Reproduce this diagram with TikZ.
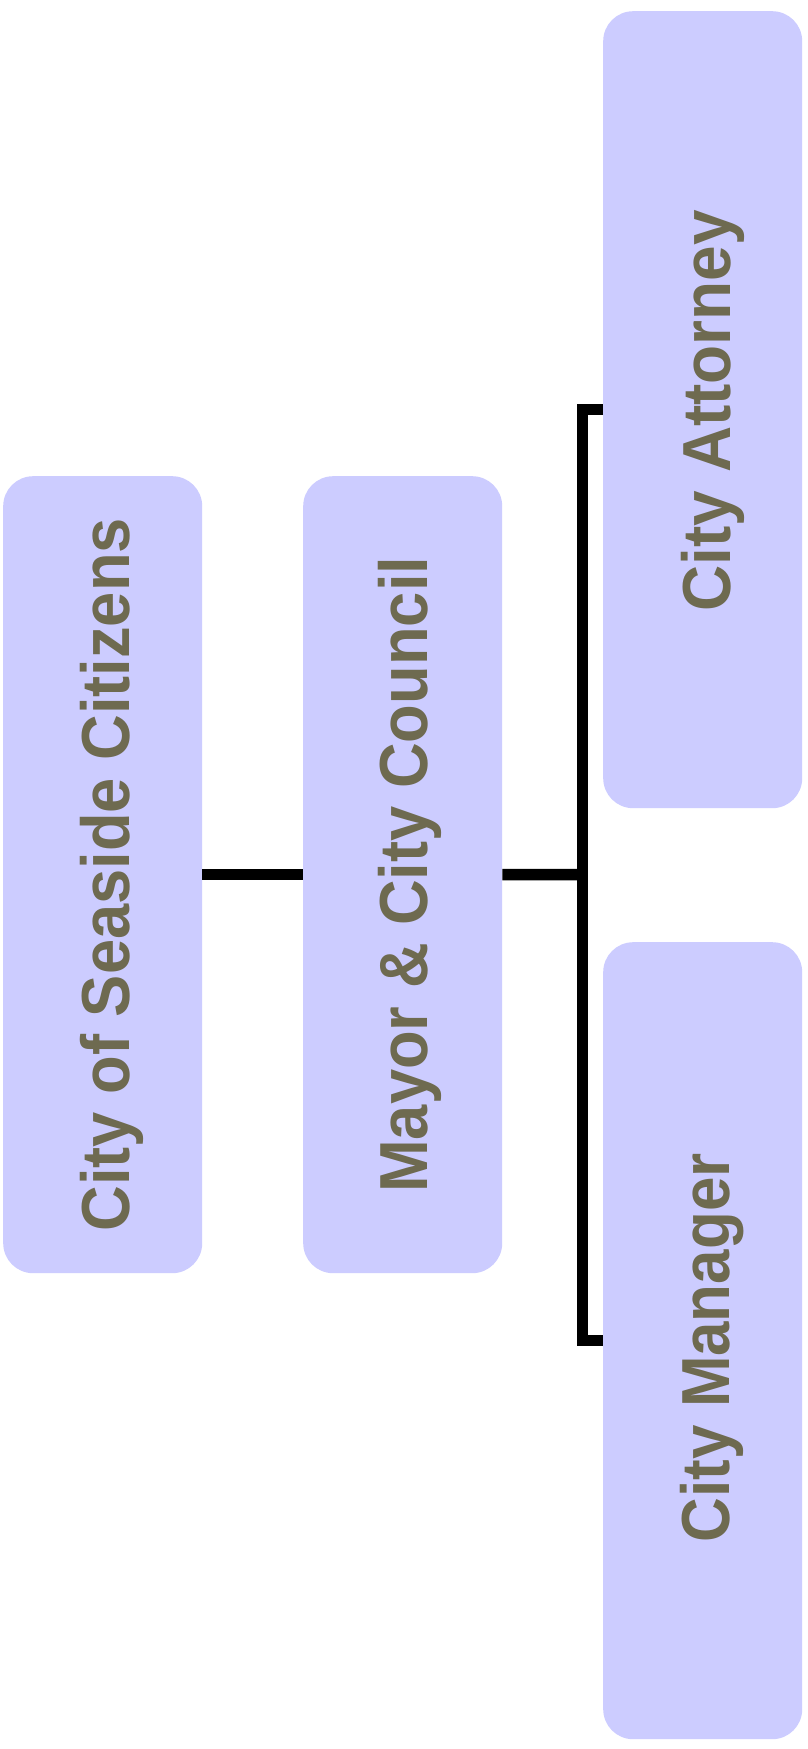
\documentclass[tikz,border=0pt]{standalone}
\usepackage{fontspec}
\setmainfont{Liberation Sans}
\definecolor{boxfill}{HTML}{CCCCFF}
\definecolor{boxtext}{HTML}{6E6A50}
\begin{document}
\begin{tikzpicture}[x=1pt,y=-1pt,
  orgbox/.style={draw=none,fill=boxfill,rounded corners=30pt,minimum width=199pt,minimum height=797pt,inner sep=0pt,anchor=north west},
  orglabel/.style={rotate=90,anchor=base,inner sep=0pt,text=boxtext,font=\fontsize{68}{80}\selectfont\bfseries},
  conn/.style={draw=black,line width=11.5pt,line join=miter}]
\fill[white] (0,0) rectangle (807,1749);
\useasboundingbox (0,0) rectangle (807,1749);
\node[orgbox] (cit) at (3,476) {};
\node[orgbox] (may) at (303,476) {};
\node[orgbox] (att) at (603,11) {};
\node[orgbox] (man) at (603,942) {};
\node[orglabel] (citt) at ([xshift=27pt]cit.center) {\scalebox{0.93}[1]{City of Seaside Citizens}};
\node[orglabel] (mayt) at ([xshift=25pt]may.center) {\scalebox{0.93}[1]{Mayor \& City Council}};
\node[orglabel] (attt) at ([xshift=28pt,yshift=-1pt]att.center) {\scalebox{0.94}[1]{City Attorney}};
\node[orglabel] (mant) at ([xshift=27pt,yshift=-7pt]man.center) {\scalebox{0.91}[1]{City Manager}};
\coordinate (j) at (582.5,874.5);
\draw[conn] (cit.east) -- (may.west);
\draw[conn] (may.east) -- (j);
\draw[conn] (att.west) -| (j) |- (man.west);
\end{tikzpicture}
\end{document}
